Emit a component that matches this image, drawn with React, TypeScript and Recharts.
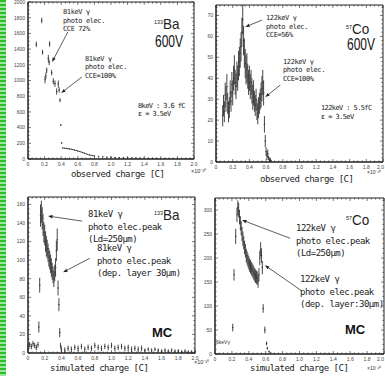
import React from "react";
import { ComposedChart, Scatter, ErrorBar, XAxis, YAxis, ReferenceLine } from "recharts";

// 133Ba, 600V, observed charge
const baObsX = [0.10, 0.165, 0.175, 0.205, 0.215, 0.225, 0.245, 0.255, 0.26, 0.285, 0.305, 0.325, 0.345, 0.365, 0.375, 0.385, 0.395, 0.405,
  0.42, 0.44, 0.46, 0.48, 0.50, 0.52, 0.54, 0.56, 0.58, 0.60, 0.62, 0.64, 0.66, 0.68, 0.70, 0.72, 0.74, 0.76, 0.78, 0.80,
  0.85, 0.90, 0.95, 1.00, 1.05, 1.10, 1.15, 1.20, 1.25, 1.30, 1.35, 1.40, 1.45, 1.50, 1.55, 1.60, 1.65, 1.70, 1.75, 1.80, 1.85, 1.90, 1.95, 2.00];
const baObsY = [1460, 1765, 1360, 1010, 1060, 1130, 1280, 1230, 1465, 1100, 990, 960, 860, 955, 880, 750, 433, 204,
  140, 137, 134, 131, 128, 124, 120, 114, 108, 102, 96, 90, 82, 74, 66, 58, 52, 47, 43, 40,
  34, 29, 25, 22, 20, 18, 16, 14, 13, 12, 11, 10, 9, 9, 8, 8, 7, 7, 6, 6, 5, 5, 5, 4];
const baObsErr = [35, 35, 30, 45, 40, 35, 45, 35, 35, 35, 40, 40, 40, 45, 35, 25, 10, 8,
  6, 6, 6, 6, 6, 6, 6, 6, 6, 6, 6, 6, 6, 5, 5, 5, 5, 5, 5, 5,
  4, 4, 4, 4, 4, 4, 4, 4, 4, 4, 4, 4, 4, 4, 4, 4, 4, 4, 4, 4, 4, 4, 4, 4];

// 57Co, 600V, observed charge
const coObsX = [0.08, 0.09, 0.10, 0.11, 0.12, 0.13, 0.14, 0.15, 0.16, 0.17, 0.18, 0.19, 0.20,
  0.21, 0.22, 0.23, 0.24, 0.25, 0.26, 0.27, 0.28, 0.29, 0.30, 0.31, 0.32, 0.33,
  0.34, 0.35, 0.36, 0.37, 0.38, 0.39, 0.40, 0.41, 0.42, 0.43, 0.44, 0.45, 0.46,
  0.47, 0.48, 0.49, 0.50, 0.51, 0.52, 0.53, 0.54, 0.55, 0.56, 0.57, 0.58, 0.59,
  0.60, 0.61, 0.62, 0.63, 0.64, 0.65, 0.66];
const coObsY = [22, 27, 24, 32, 30, 36, 28, 24, 26, 33, 29, 37, 33,
  40, 44, 38, 36, 42, 40, 46, 48, 52, 55, 62, 68, 58,
  52, 47, 44, 45, 41, 38, 40, 36, 38, 34, 31, 33, 29,
  27, 30, 25, 23, 26, 28, 30, 32, 35, 38, 33, 18, 10,
  5, 3, 4, 2, 1, 1, 0.5];
const coObsErr = [5, 5, 5, 6, 6, 6, 5, 5, 5, 6, 5, 6, 6,
  6, 7, 6, 6, 6, 6, 7, 7, 7, 7, 7, 7, 7,
  7, 7, 7, 7, 6, 6, 6, 6, 6, 6, 6, 6, 5,
  5, 5, 5, 5, 5, 5, 5, 6, 6, 6, 6, 4, 3,
  2, 2, 2, 1, 1, 1, 0.5];

// 133Ba, MC, simulated charge
const baMcX = [0.00, 0.02, 0.04, 0.06, 0.08, 0.10, 0.12, 0.13, 0.14,
  0.15, 0.16, 0.17, 0.18, 0.19, 0.20, 0.21, 0.22, 0.23, 0.24, 0.25, 0.26, 0.27, 0.28, 0.29, 0.30, 0.31, 0.32, 0.33, 0.34, 0.35, 0.36, 0.37, 0.38, 0.39,
  0.40, 0.44, 0.48, 0.52, 0.56, 0.60, 0.64, 0.68, 0.72, 0.76, 0.80, 0.84, 0.88, 0.92, 0.96, 1.00, 1.04, 1.08, 1.12, 1.16,
  1.20, 1.24, 1.28, 1.32, 1.36, 1.40, 1.44, 1.48, 1.52, 1.56, 1.60, 1.64, 1.68, 1.72, 1.76, 1.80, 1.84, 1.88, 1.92, 1.96, 2.00];
const baMcY = [6, 9, 7, 10, 8, 6, 9, 28, 73,
  148, 152, 145, 138, 130, 127, 120, 115, 112, 108, 103, 100, 96, 92, 88, 84, 80, 86, 92, 110, 122, 70, 52, 22, 8,
  4, 3, 5, 4, 6, 5, 7, 4, 6, 5, 8, 6, 5, 7, 6, 8, 5, 6, 7, 5,
  6, 4, 5, 4, 5, 3, 4, 3, 4, 3, 2, 3, 2, 3, 2, 2, 1, 2, 1, 1, 1];
const baMcErr = [3, 3, 3, 3, 3, 3, 3, 6, 8,
  12, 12, 12, 12, 11, 11, 11, 11, 10, 10, 10, 10, 10, 10, 9, 9, 9, 9, 10, 11, 12, 8, 7, 5, 3,
  3, 3, 3, 3, 3, 3, 3, 3, 3, 3, 3, 3, 3, 3, 3, 3, 3, 3, 3, 3,
  3, 3, 3, 3, 3, 2, 2, 2, 2, 2, 2, 2, 2, 2, 2, 2, 2, 2, 2, 2, 2];

// 57Co, MC, simulated charge
const coMcX = [0.21, 0.225, 0.245,
  0.26, 0.27, 0.28, 0.29, 0.30, 0.31, 0.32, 0.33, 0.34, 0.35, 0.36, 0.37, 0.38, 0.39, 0.40, 0.41, 0.42, 0.43, 0.44, 0.45,
  0.46, 0.47, 0.48, 0.49, 0.50, 0.51, 0.52, 0.53, 0.54, 0.55, 0.56,
  0.57, 0.59, 0.61, 0.62, 0.64, 0.66];
const coMcY = [55, 165, 245,
  290, 305, 300, 285, 272, 262, 250, 240, 232, 222, 215, 205, 200, 195, 190, 185, 182, 178, 175, 172,
  168, 165, 162, 160, 158, 152, 165, 200, 218, 205, 180,
  95, 50, 22, 12, 5, 2];
const coMcErr = [8, 12, 16,
  15, 15, 15, 15, 15, 15, 15, 15, 14, 14, 14, 14, 14, 14, 14, 14, 14, 14, 14, 14,
  14, 14, 14, 14, 14, 14, 14, 15, 15, 15, 14,
  9, 7, 4, 3, 2, 1];

// axis ticks
const xMajor = [0, 0.2, 0.4, 0.6, 0.8, 1.0, 1.2, 1.4, 1.6, 1.8, 2.0];
const baObsYMajor = [0, 200, 400, 600, 800, 1000, 1200, 1400, 1600, 1800, 2000];
const coObsYMajor = [0, 10, 20, 30, 40, 50, 60, 70];
const baMcYMajor = [0, 20, 40, 60, 80, 100, 120, 140, 160];
const coMcYMajor = [0, 50, 100, 150, 200, 250, 300];

// annotation arrows [tailX, tailY, headX, headY]
const baObsArrows = [[0.48, 1618, 0.29, 1236], [0.65, 1045, 0.40, 841]];
const coObsArrows = [[0.55, 67.8, 0.35, 64.5], [0.77, 36.8, 0.59, 31]];
const baMcArrows = [[0.65, 142, 0.24, 147.5], [0.74, 102, 0.42, 87]];
const coMcArrows = [[0.89, 241, 0.32, 279], [1.03, 131, 0.59, 185]];

const W = 385;
const H = 376;
const INK = "#222";

const toPoints = (xs: number[], ys: number[], es: number[]) =>
  xs.map((x, i) => ({ x, y: ys[i], err: es[i] }));

const minorTicks = (majors: number[], n: number, max: number) => {
  const step = (majors[1] - majors[0]) / n;
  const out: number[] = [];
  for (let i = 0; i * step <= max + 1e-9; i++) out.push(Math.round(i * step * 1000) / 1000);
  return out;
};

const isIn = (v: number, arr: number[]) => arr.some((m) => Math.abs(m - v) < 1e-6);

const Dot = (p: any) =>
  p.cx == null ? <g /> : <rect x={p.cx - 0.7} y={p.cy - 0.5} width={1.4} height={1} fill="#333" />;

const ArrowShape = (p: any) => {
  const { x1, y1, x2, y2 } = p;
  const a = Math.atan2(y2 - y1, x2 - x1);
  const L = 4.5;
  const w = 1.7;
  const bx = x2 - L * Math.cos(a);
  const by = y2 - L * Math.sin(a);
  const pts = `${x2},${y2} ${bx + w * Math.sin(a)},${by - w * Math.cos(a)} ${bx - w * Math.sin(a)},${by + w * Math.cos(a)}`;
  return (
    <g>
      <line x1={x1} y1={y1} x2={bx} y2={by} stroke="#333" strokeWidth={0.8} />
      <polygon points={pts} fill={INK} />
    </g>
  );
};

const FrameLine = (p: any) => (
  <line x1={p.x1} y1={p.y1} x2={p.x2} y2={p.y2} stroke={INK} strokeWidth={1} />
);

type Box = { l: number; t: number; r: number; b: number };

function Panel({ box, yMax, yMajor, yDiv, points, arrows }: {
  box: Box; yMax: number; yMajor: number[]; yDiv: number; points: any[]; arrows: number[][];
}) {
  const plotW = box.r - box.l;
  const plotH = box.b - box.t;
  const xTicks = minorTicks(xMajor, 4, 2);
  const yTicks = minorTicks(yMajor, yDiv, yMax);

  const XTick = (p: any) => {
    const { x, y, payload } = p;
    const major = isIn(payload.value, xMajor);
    const len = major ? 3 : 1.6;
    const v = payload.value;
    const nearEdge = x > W - 6;
    return (
      <g>
        <line x1={x} y1={y} x2={x} y2={y - len} stroke={INK} strokeWidth={0.6} />
        <line x1={x} y1={y - plotH} x2={x} y2={y - plotH + len} stroke={INK} strokeWidth={0.6} />
        {major && (
          <text x={nearEdge ? W - 1 : x} y={y + 6.5} fontSize={5} fill="#444" textAnchor={nearEdge ? "end" : "middle"}
            fontFamily="Liberation Sans, Arial, sans-serif">
            {v === 0 ? "0" : v.toFixed(1)}
          </text>
        )}
      </g>
    );
  };

  const YTick = (p: any) => {
    const { x, y, payload } = p;
    const major = isIn(payload.value, yMajor);
    const len = major ? 3 : 1.6;
    return (
      <g>
        <line x1={x} y1={y} x2={x + len} y2={y} stroke={INK} strokeWidth={0.6} />
        <line x1={x + plotW} y1={y} x2={x + plotW - len} y2={y} stroke={INK} strokeWidth={0.6} />
        {major && (
          <text x={x - 3} y={y + 1.8} fontSize={5} fill="#444" textAnchor="end" fontFamily="Liberation Sans, Arial, sans-serif">
            {payload.value}
          </text>
        )}
      </g>
    );
  };

  return (
    <div style={{ position: "absolute", left: 0, top: 0 }}>
      <ComposedChart
        width={W}
        height={H}
        margin={{ top: box.t, left: box.l - 1, right: W - box.r, bottom: H - box.b - 1 }}
      >
        <XAxis type="number" dataKey="x" domain={[0, 2]} ticks={xTicks} interval={0} tick={XTick}
          tickSize={0} tickMargin={0} height={1} allowDataOverflow stroke={INK} tickLine={false} />
        <YAxis type="number" dataKey="y" domain={[0, yMax]} ticks={yTicks} interval={0} tick={YTick}
          tickSize={0} tickMargin={0} width={1} allowDataOverflow stroke={INK} tickLine={false} />
        <ReferenceLine segment={[{ x: 0, y: 0 }, { x: 2, y: 0 }]} shape={FrameLine} ifOverflow="visible" />
        <ReferenceLine segment={[{ x: 0, y: yMax }, { x: 2, y: yMax }]} shape={FrameLine} ifOverflow="visible" />
        <ReferenceLine segment={[{ x: 0, y: 0 }, { x: 0, y: yMax }]} shape={FrameLine} ifOverflow="visible" />
        <ReferenceLine segment={[{ x: 2, y: 0 }, { x: 2, y: yMax }]} shape={FrameLine} ifOverflow="visible" />
        <Scatter data={points} dataKey="y" isAnimationActive={false} shape={Dot}>
          <ErrorBar dataKey="err" direction="y" width={0} stroke="#333" strokeWidth={0.9} isAnimationActive={false} />
        </Scatter>
        {arrows.map((a, i) => (
          <ReferenceLine key={i} segment={[{ x: a[0], y: a[1] }, { x: a[2], y: a[3] }]} shape={ArrowShape} ifOverflow="visible" />
        ))}
      </ComposedChart>
    </div>
  );
}

const mono = "'DejaVu Sans Mono', 'Liberation Mono', monospace";
const sans = "'Liberation Sans', Arial, sans-serif";

function Note({ x, y, lines, size, lh, ls }: { x: number; y: number; lines: string[]; size: number; lh: number; ls: number }) {
  return (
    <div style={{ position: "absolute", left: x, top: y, fontFamily: mono, fontSize: size, lineHeight: `${lh}px`,
      letterSpacing: ls, color: "#222", whiteSpace: "pre" }}>
      {lines.map((l, i) => <div key={i}>{l}</div>)}
    </div>
  );
}

function Iso({ x, y, mass, sym }: { x: number; y: number; mass: string; sym: string }) {
  return (
    <div style={{ position: "absolute", left: x, top: y, height: 13, fontFamily: sans, color: "#222", whiteSpace: "nowrap",
      lineHeight: "13px", transform: "scaleX(0.9)", transformOrigin: "left top" }}>
      <span style={{ fontSize: 6, verticalAlign: "top", position: "relative", top: -1 }}>{mass}</span>
      <span style={{ fontSize: 15 }}>{sym}</span>
    </div>
  );
}

function Big({ x, y, text, bold }: { x: number; y: number; text: string; bold?: boolean }) {
  return (
    <div style={{ position: "absolute", left: x, top: y, fontFamily: sans, fontSize: bold ? 13 : 16, lineHeight: "14px",
      fontWeight: bold ? 700 : 400, color: "#111", whiteSpace: "nowrap",
      transform: bold ? undefined : "scaleX(0.75)", transformOrigin: "left top" }}>
      {text}
    </div>
  );
}

function Small({ x, y, text, size = 5.5 }: { x: number; y: number; text: string; size?: number }) {
  return (
    <div style={{ position: "absolute", left: x, top: y, fontFamily: sans, fontSize: size, lineHeight: `${size + 1}px`,
      color: "#333", whiteSpace: "nowrap" }}>
      {text}
    </div>
  );
}

function Title({ x, y, text }: { x: number; y: number; text: string }) {
  return (
    <div style={{ position: "absolute", left: x, top: y, fontFamily: mono, fontSize: 9, lineHeight: "10px",
      letterSpacing: -0.5, color: "#222", whiteSpace: "pre" }}>
      {text}
    </div>
  );
}

export default function App() {
  return (
    <div style={{ position: "absolute", left: 0, top: 0, width: W, height: H, background: "#fff", overflow: "hidden" }}>
      <div style={{ position: "absolute", left: 0, top: 0, width: 6, height: H,
        background: "repeating-linear-gradient(180deg, #2dbd2d 0px, #2dbd2d 2px, #9be39b 2px, #9be39b 4px)" }} />

      <Panel box={{ l: 28, t: 2, r: 194, b: 159 }} yMax={2000} yMajor={baObsYMajor} yDiv={4}
        points={toPoints(baObsX, baObsY, baObsErr)} arrows={baObsArrows} />
      <Panel box={{ l: 216, t: 5, r: 383, b: 162 }} yMax={75} yMajor={coObsYMajor} yDiv={5}
        points={toPoints(coObsX, coObsY, coObsErr)} arrows={coObsArrows} />
      <Panel box={{ l: 28, t: 197, r: 195, b: 353 }} yMax={168} yMajor={baMcYMajor} yDiv={4}
        points={toPoints(baMcX, baMcY, baMcErr)} arrows={baMcArrows} />
      <Panel box={{ l: 215, t: 198, r: 384, b: 354 }} yMax={325} yMajor={coMcYMajor} yDiv={5}
        points={toPoints(coMcX, coMcY, coMcErr)} arrows={coMcArrows} />

      {/* top-left */}
      <Note x={63} y={8} lines={["81keV γ", "photo elec.", "CCE 72%"]} size={7} lh={8.5} ls={-0.4} />
      <Note x={85} y={54.5} lines={["81keV γ", "photo elec.", "CCE=100%"]} size={7} lh={8.5} ls={-0.4} />
      <Note x={138} y={102} lines={["8keV : 3.6 fC", "ε = 3.5eV"]} size={7} lh={8} ls={-0.6} />
      <Iso x={154} y={17} mass="133" sym="Ba" />
      <Big x={155} y={35} text="600V" />
      <Title x={71} y={169} text="observed charge [C]" />
      <Small x={191} y={168} text="×10⁻¹⁰" />

      {/* top-right */}
      <Note x={266} y={14} lines={["122keV γ", "photo elec.", "CCE=56%"]} size={7} lh={8.7} ls={-0.4} />
      <Note x={283} y={57.5} lines={["122keV γ", "photo elec.", "CCE=100%"]} size={7} lh={8.7} ls={-0.4} />
      <Note x={321} y={103.5} lines={["122keV : 5.5fC", "ε = 3.5eV"]} size={7} lh={9} ls={-0.6} />
      <Iso x={346} y={22} mass="57" sym="Co" />
      <Big x={347} y={38} text="600V" />
      <Title x={260} y={174} text="observed charge [C]" />
      <Small x={367} y={169} text="×10⁻¹⁰" size={5} />

      {/* bottom-left */}
      <Note x={88} y={208} lines={["81keV γ", "photo elec.peak", "(Ld=250μm)"]} size={9} lh={12.5} ls={-0.5} />
      <Note x={97} y={242} lines={["81keV γ", "photo elec.peak", "(dep. layer 30μm)"]} size={9} lh={12.5} ls={-0.5} />
      <Iso x={154} y={208} mass="133" sym="Ba" />
      <Big x={152} y={326} text="MC" bold />
      <Title x={50} y={363} text="simulated charge [C]" />
      <Small x={194} y={359} text="×10⁻¹⁰" />

      {/* bottom-right */}
      <Note x={296} y={222} lines={["122keV γ", "photo elec.peak", "(Ld=250μm)"]} size={9} lh={12.5} ls={-0.5} />
      <Note x={300} y={273} lines={["122keV γ", "photo elec.peak", "(dep. layer:30μm)"]} size={9} lh={12.5} ls={-0.5} />
      <Iso x={346} y={213} mass="57" sym="Co" />
      <Big x={345} y={323} text="MC" bold />
      <Small x={216} y={339} text="6keVγ" size={5} />
      <Title x={250} y={363} text="simulated charge [C]" />
      <Small x={367} y={365} text="×10⁻¹⁰" size={5} />
    </div>
  );
}
